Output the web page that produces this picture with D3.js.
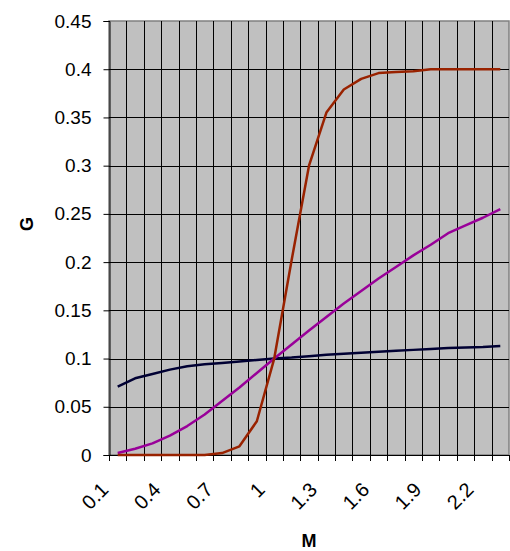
<!DOCTYPE html>
<html>
<head>
<meta charset="utf-8">
<script src="https://cdn.jsdelivr.net/npm/d3@7"></script>
<style>
  body { margin: 0; background: #fff; }
  text { font-family: Arial, "Liberation Sans", sans-serif; fill: #000; }
</style>
</head>
<body>
<svg id="chart" width="510" height="551"></svg>
<script>
// categories on the M axis
var categories = ["0.1","0.2","0.3","0.4","0.5","0.6","0.7","0.8","0.9","1","1.1","1.2",
                  "1.3","1.4","1.5","1.6","1.7","1.8","1.9","2","2.1","2.2","2.3"];

// series values
var seriesBlack  = [0.071,0.0795,0.084,0.0885,0.092,0.094,0.0955,0.097,0.0985,0.1,0.101,0.1025,
                    0.104,0.105,0.106,0.107,0.108,0.109,0.110,0.111,0.1115,0.112,0.113];
var seriesPurple = [0.002,0.0065,0.012,0.020,0.030,0.042,0.056,0.070,0.085,0.1,0.1145,0.129,
                    0.143,0.157,0.170,0.183,0.195,0.207,0.218,0.230,0.238,0.246,0.255];
var seriesBrown  = [0,0,0,0,0,0,0.002,0.009,0.035,0.1,0.202,0.3,
                    0.355,0.379,0.39,0.396,0.397,0.398,0.4,0.4,0.4,0.4,0.4];

var yTicks = [0,0.05,0.1,0.15,0.2,0.25,0.3,0.35,0.4,0.45];

var margin = { left: 109, right: 1, top: 21, bottom: 96 },
    width = 510 - margin.left - margin.right,
    height = 551 - margin.top - margin.bottom;

var svg = d3.select("#chart");
var g = svg.append("g").attr("transform", "translate(" + margin.left + "," + margin.top + ")");

var x = d3.scaleBand().domain(categories).range([0, width]).padding(0);
var y = d3.scaleLinear().domain([0, 0.45]).range([height, 0]);

function cx(c) { return x(c) + x.bandwidth() / 2; }

// plot background
g.append("rect")
    .attr("x", 0).attr("y", 0)
    .attr("width", width).attr("height", height)
    .attr("fill", "#c0c0c0")
    .attr("stroke", "#808080")
    .attr("stroke-width", 1.5);

// vertical grid lines at category boundaries
g.selectAll("line.vgrid")
    .data(categories.slice(1))
    .enter().append("line")
    .attr("class", "vgrid")
    .attr("x1", function(d) { return Math.round(x(d)) + 0.5; })
    .attr("x2", function(d) { return Math.round(x(d)) + 0.5; })
    .attr("y1", 0).attr("y2", height)
    .attr("stroke", "#000").attr("stroke-width", 1);

// horizontal grid lines
g.selectAll("line.hgrid")
    .data(yTicks.slice(1, -1))
    .enter().append("line")
    .attr("class", "hgrid")
    .attr("x1", 0).attr("x2", width)
    .attr("y1", function(d) { return Math.round(y(d)) + 0.5; })
    .attr("y2", function(d) { return Math.round(y(d)) + 0.5; })
    .attr("stroke", "#000").attr("stroke-width", 1);

// y axis
var yAxis = d3.axisLeft(y).tickValues(yTicks).tickSize(6).tickPadding(12)
    .tickFormat(function(d) { return String(+d.toFixed(2)); });
var ya = g.append("g").attr("transform", "translate(0.5,0)").call(yAxis);
ya.select(".domain").attr("stroke", "#000");
ya.selectAll(".tick line").attr("stroke", "#000");
ya.selectAll(".tick text")
    .style("font-size", "19px")
    .style("font-family", "Arial, 'Liberation Sans', sans-serif");

// x axis line + tick marks at category boundaries
g.append("line")
    .attr("x1", 0).attr("x2", width)
    .attr("y1", height + 0.5).attr("y2", height + 0.5)
    .attr("stroke", "#000");
g.selectAll("line.xtick")
    .data(categories.concat(["end"]))
    .enter().append("line")
    .attr("class", "xtick")
    .attr("x1", function(d) { var v = d === "end" ? width : x(d); return Math.round(v) + 0.5; })
    .attr("x2", function(d) { var v = d === "end" ? width : x(d); return Math.round(v) + 0.5; })
    .attr("y1", height).attr("y2", height + 6)
    .attr("stroke", "#000");

// rotated category labels, every third one
g.selectAll("text.xlab")
    .data(categories.filter(function(d, i) { return i % 3 === 0; }))
    .enter().append("text")
    .attr("class", "xlab")
    .attr("text-anchor", "end")
    .attr("transform", function(d) {
        return "translate(" + (cx(d) - 8) + "," + (height + 36) + ") rotate(-45)";
    })
    .style("font-size", "20px")
    .text(function(d) { return d; });

// series lines
var line = d3.line()
    .x(function(d, i) { return cx(categories[i]); })
    .y(function(d) { return y(d); });

[[seriesBlack, "#000033"], [seriesPurple, "#990099"], [seriesBrown, "#992200"]].forEach(function(s) {
    g.append("path")
        .datum(s[0])
        .attr("fill", "none")
        .attr("stroke", s[1])
        .attr("stroke-width", 2.5)
        .attr("stroke-linejoin", "round")
        .attr("d", line);
});

// axis titles
svg.append("text")
    .attr("x", margin.left + width / 2).attr("y", 547)
    .attr("text-anchor", "middle")
    .style("font-size", "18px").style("font-weight", "bold")
    .text("M");

svg.append("text")
    .attr("transform", "translate(33," + 224 + ") rotate(-90)")
    .attr("text-anchor", "middle")
    .style("font-size", "18px").style("font-weight", "bold")
    .text("G");
</script>
</body>
</html>
